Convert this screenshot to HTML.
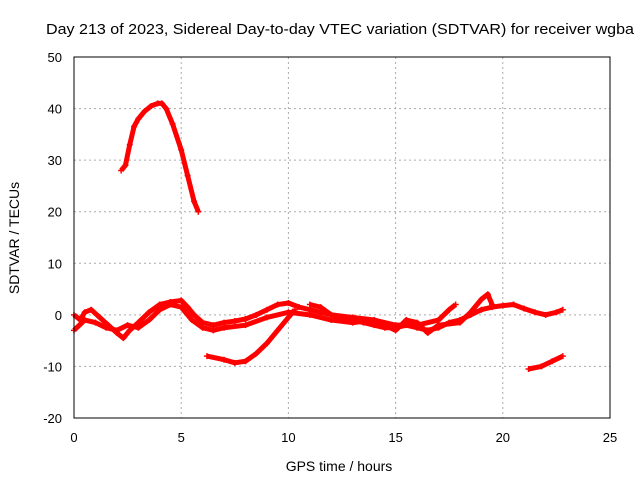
<!DOCTYPE html>
<html><head><meta charset="utf-8"><style>
body{margin:0;background:#fff;}
svg text{font-family:"Liberation Sans",sans-serif;font-size:13px;fill:#000;}
</style></head><body>
<svg id="chart" width="640" height="480" xmlns="http://www.w3.org/2000/svg">
<rect width="640" height="480" fill="#fff"/>
<text x="46" y="34" textLength="588" lengthAdjust="spacingAndGlyphs" style="font-size:14.5px">Day 213 of 2023, Sidereal Day-to-day VTEC variation (SDTVAR) for receiver wgba</text>
<g id="grid"></g><g id="series"></g>
<rect x="74" y="57" width="536" height="361" fill="none" stroke="#000" stroke-width="1"/>
<g id="ticks"></g>
<text x="339" y="471" text-anchor="middle" style="font-size:14px">GPS time / hours</text>
<text transform="translate(19,238) rotate(-90)" text-anchor="middle" style="font-size:14px">SDTVAR / TECUs</text>
</svg>
<script>
const xTicks=[0,5,10,15,20,25];
const yTicks=[-20,-10,0,10,20,30,40,50];
const arcSeries=[[2.2,28],[2.4,29],[2.6,33],[2.8,36.5],[3.0,38],[3.3,39.5],[3.6,40.5],[3.9,41],[4.1,41],[4.3,40],[4.6,37],[5.0,32],[5.3,27],[5.6,22],[5.8,20]];
const bandA=[[0,0],[0.3,-1],[0.5,0.5],[0.8,1],[1.2,-0.5],[1.6,-2],[2,-3.5],[2.3,-4.5],[2.6,-3],[3,-1.5],[3.5,0.5],[4,2],[4.5,2.5],[5,2.8],[5.3,1.5],[5.6,0],[6,-1.5],[6.5,-2],[7,-1.5],[7.5,-1.2],[8,-0.8],[8.5,0],[9,1],[9.5,2],[10,2.3],[10.5,1.5],[11,1],[11.5,0.5],[12,0],[12.5,-0.5],[13,-1],[13.5,-1.5],[14,-2],[14.5,-2.5],[15,-2.5],[15.5,-2],[16,-2.5],[16.5,-3],[17,-2.5],[17.5,-1.5],[18,-1],[18.5,0],[19,1],[19.5,1.5],[20,1.8],[20.5,2],[21,1.2],[21.5,0.5],[22,0],[22.5,0.5],[22.8,1]];
const bandB=[[0,-3],[0.5,-1],[1,-1.5],[1.5,-2.5],[2,-3],[2.5,-2],[3,-2.5],[3.5,-1],[4,1],[4.5,2],[5,1.5],[5.5,-1],[6,-2.5],[6.5,-3],[7,-2.5],[8,-2],[9,-0.5],[10,0.5],[11,0],[12,-1],[13,-1.5],[14,-1],[15,-3],[15.5,-1],[16,-1.5],[16.5,-3.5],[17,-2],[18,-1.5],[18.5,0.5],[19,3],[19.3,4],[19.5,2]];
const bandC=[[6.2,-8],[7,-8.7],[7.5,-9.3],[8,-9],[8.5,-7.5],[9,-5.5],[9.5,-3],[10,-0.5],[10.3,1]];
const bandD=[[21.2,-10.5],[21.8,-10],[22.3,-9],[22.8,-8]];
const bandE=[[11,2],[11.5,1.5],[12,0],[13,-0.5],[14,-1],[15,-2],[16,-2],[17,-1],[17.5,1],[17.8,2]];
const X=v=>74+v*536/25, Y=v=>418-(v+20)*361/70;
const NS="http://www.w3.org/2000/svg";
const mk=(t,a,p)=>{const e=document.createElementNS(NS,t);for(const k in a)e.setAttribute(k,a[k]);p.appendChild(e);return e;};
const grid=document.getElementById('grid'),ticks=document.getElementById('ticks'),ser=document.getElementById('series');
xTicks.forEach(t=>{
 if(t>0&&t<25){const g=mk('line',{x1:X(t),x2:X(t),y1:57,y2:418,stroke:'#aaa','stroke-dasharray':'2,3'},grid);
 
 }
 const l=mk('text',{x:X(t),y:442,'text-anchor':'middle'},ticks);l.textContent=t;
 
 
});
yTicks.forEach(t=>{
 if(t>-20&&t<50){const g=mk('line',{x1:74,x2:610,y1:Y(t),y2:Y(t),stroke:'#aaa','stroke-dasharray':'2,3'},grid);
 
 }
 const l=mk('text',{x:62,y:Y(t)+5,'text-anchor':'end'},ticks);l.textContent=t;
 
 
});
[arcSeries,bandA,bandB,bandC,bandD,bandE].forEach(s=>{
 const p=mk('polyline',{points:s.map(d=>X(d[0])+','+Y(d[1])).join(' '),fill:'none',stroke:'#f00','stroke-width':5,'stroke-linejoin':'round'},ser);
 
 
 s.forEach(d=>{const m=mk('path',{d:`M${X(d[0])-3},${Y(d[1])}h6M${X(d[0])},${Y(d[1])-3}v6`,stroke:'#f00','stroke-width':1.5},ser);
 
 });
});
</script>
</body></html>
